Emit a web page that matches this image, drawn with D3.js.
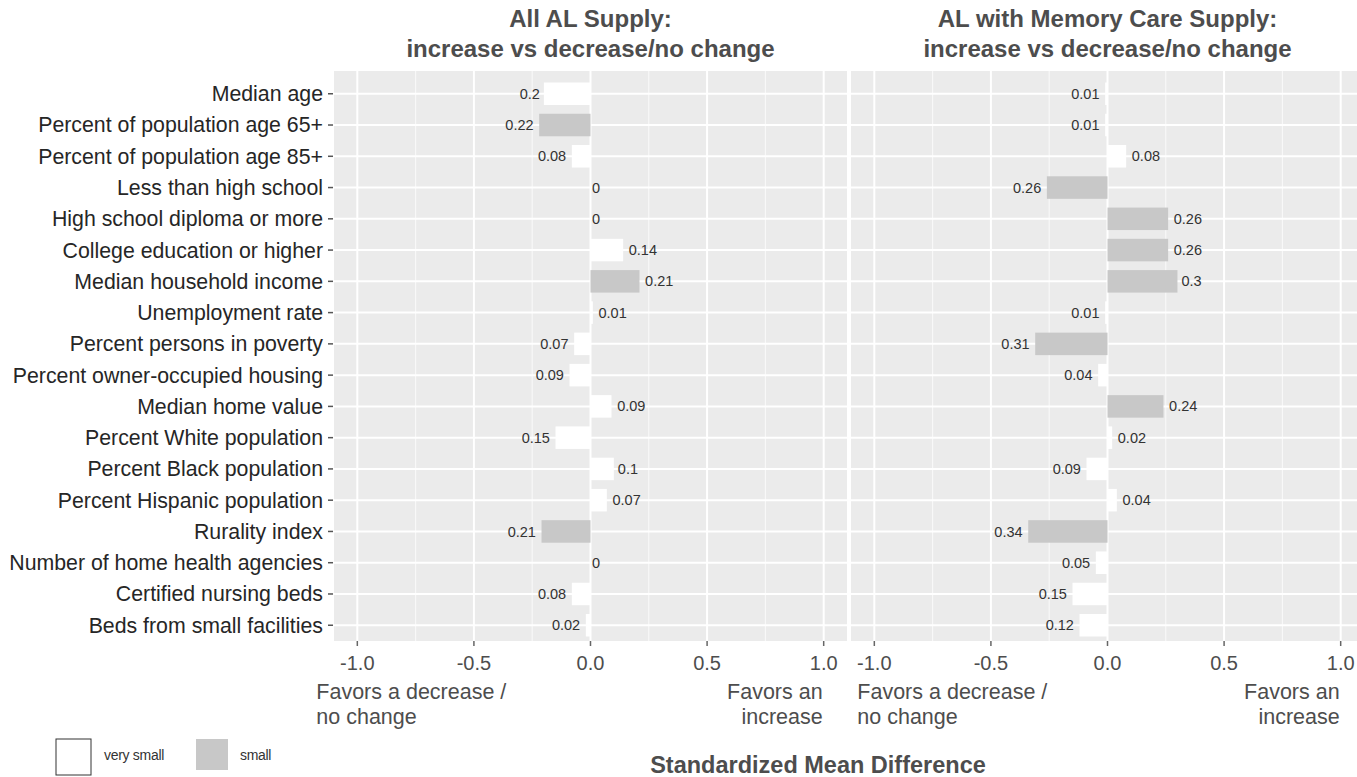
<!DOCTYPE html>
<html>
<head>
  <meta charset="utf-8">
  <script src="https://cdn.jsdelivr.net/npm/d3@7"></script>
  <style>
    body { margin: 0; background: #ffffff; }
    svg { font-family: "Liberation Sans", Arial, sans-serif; }
  </style>
</head>
<body>
  <script>
    // data (negative = favours a decrease / no change)
    var categories = [
      "Median age", "Percent of population age 65+", "Percent of population age 85+",
      "Less than high school", "High school diploma or more", "College education or higher",
      "Median household income", "Unemployment rate", "Percent persons in poverty",
      "Percent owner-occupied housing", "Median home value", "Percent White population",
      "Percent Black population", "Percent Hispanic population", "Rurality index",
      "Number of home health agencies", "Certified nursing beds", "Beds from small facilities"
    ];
    var allAL = [-0.2, -0.22, -0.08, 0, 0, 0.14, 0.21, 0.01, -0.07, -0.09, 0.09, -0.15, 0.1, 0.07, -0.21, 0, -0.08, -0.02];
    var allALSize = ["very small", "small", "very small", "very small", "very small", "very small", "small",
      "very small", "very small", "very small", "very small", "very small", "very small", "very small",
      "small", "very small", "very small", "very small"];
    var memoryCare = [-0.01, -0.01, 0.08, -0.26, 0.26, 0.26, 0.3, -0.01, -0.31, -0.04, 0.24, 0.02, -0.09, 0.04, -0.34, -0.05, -0.15, -0.12];
    var memoryCareSize = ["very small", "very small", "very small", "small", "small", "small", "small",
      "very small", "small", "very small", "small", "very small", "very small", "very small",
      "small", "very small", "very small", "very small"];
    var panelTitles = [
      ["All AL Supply:", "increase vs decrease/no change"],
      ["AL with Memory Care Supply:", "increase vs decrease/no change"]
    ];
    var xTicks = [-1, -0.5, 0, 0.5, 1];
    var minorTicks = [-0.75, -0.25, 0.25, 0.75];
    var sizeLevels = ["very small", "small"];

    var W = 1357, H = 777;
    var panelTop = 71, panelBottom = 641;
    var panelW = 513;
    var panelX = [334, 851];

    var fill = d3.scaleOrdinal().domain(sizeLevels).range(["#ffffff", "#c8c8c8"]);
    var fmt = function (d) { return d3.format(".1f")(d).replace("\u2212", "-"); };

    var svg = d3.select("body").append("svg")
      .attr("width", W)
      .attr("height", H);

    var yScale = d3.scalePoint().domain(categories).range([75, 644]).padding(0.6);
    var barH = yScale.step() * 0.72;

    var panels = [
      { values: allAL, sizes: allALSize, title: panelTitles[0], x0: panelX[0] },
      { values: memoryCare, sizes: memoryCareSize, title: panelTitles[1], x0: panelX[1] }
    ];

    panels.forEach(function (p, pi) {
      var xScale = d3.scaleLinear().domain([-1.1, 1.1]).range([p.x0, p.x0 + panelW]);
      var g = svg.append("g");

      // panel background
      g.append("rect")
        .attr("x", p.x0).attr("y", panelTop)
        .attr("width", panelW).attr("height", panelBottom - panelTop)
        .attr("fill", "#ebebeb");

      // grid
      g.selectAll(".minor").data(minorTicks).enter().append("line")
        .attr("x1", function (d) { return xScale(d); })
        .attr("x2", function (d) { return xScale(d); })
        .attr("y1", panelTop).attr("y2", panelBottom)
        .attr("stroke", "#fafafa").attr("stroke-width", 1);
      g.selectAll(".major").data(xTicks).enter().append("line")
        .attr("x1", function (d) { return xScale(d); })
        .attr("x2", function (d) { return xScale(d); })
        .attr("y1", panelTop).attr("y2", panelBottom)
        .attr("stroke", "#ffffff").attr("stroke-width", 2);
      g.selectAll(".hgrid").data(categories).enter().append("line")
        .attr("x1", p.x0).attr("x2", p.x0 + panelW)
        .attr("y1", function (d) { return yScale(d); })
        .attr("y2", function (d) { return yScale(d); })
        .attr("stroke", "#ffffff").attr("stroke-width", 2);

      var rows = categories.map(function (c, i) {
        return { cat: c, v: p.values[i], size: p.sizes[i] };
      });

      // bars
      g.selectAll(".bar").data(rows).enter().append("rect")
        .attr("x", function (d) { return xScale(Math.min(0, d.v)); })
        .attr("y", function (d) { return yScale(d.cat) - barH / 2; })
        .attr("width", function (d) { return Math.abs(xScale(d.v) - xScale(0)); })
        .attr("height", barH)
        .attr("fill", function (d) { return fill(d.size); });

      // value labels (absolute values, hjust -0.2 / 1.2 like ggplot)
      g.selectAll(".val").data(rows).enter().append("text")
        .text(function (d) { return String(Math.abs(d.v)); })
        .attr("y", function (d) { return yScale(d.cat); })
        .attr("dy", "0.35em")
        .attr("font-size", 14.5)
        .attr("fill", "#333333")
        .attr("text-anchor", function (d) { return d.v < 0 ? "end" : "start"; })
        .attr("x", function (d) { return xScale(d.v); })
        .each(function (d) {
          var w = this.getComputedTextLength();
          var x = xScale(d.v) + (d.v < 0 ? -0.2 * w : 0.2 * w);
          d3.select(this).attr("x", x);
        });

      // x axis ticks and labels
      g.selectAll(".xt").data(xTicks).enter().append("line")
        .attr("x1", function (d) { return xScale(d); })
        .attr("x2", function (d) { return xScale(d); })
        .attr("y1", panelBottom).attr("y2", panelBottom + 5)
        .attr("stroke", "#666666").attr("stroke-width", 1.5);
      g.selectAll(".xl").data(xTicks).enter().append("text")
        .attr("x", function (d) { return xScale(d); })
        .attr("y", 670)
        .attr("text-anchor", "middle")
        .attr("font-size", 20)
        .attr("fill", "#4d4d4d")
        .text(fmt);

      // direction notes
      var leftX = pi === 0 ? xScale(-1) - 41 : xScale(-1) - 17;
      var notes = g.append("g").attr("font-size", 21.5).attr("fill", "#4d4d4d");
      notes.append("text").attr("x", leftX).attr("y", 699).text("Favors a decrease /");
      notes.append("text").attr("x", leftX).attr("y", 724).text("no change");
      notes.append("text").attr("x", xScale(1) - 1).attr("y", 699).attr("text-anchor", "end").text("Favors an");
      notes.append("text").attr("x", xScale(1) - 1).attr("y", 724).attr("text-anchor", "end").text("increase");

      // panel title
      var cx = xScale(0);
      g.append("text").attr("x", cx).attr("y", 27).attr("text-anchor", "middle")
        .attr("font-size", 24).attr("font-weight", "bold").attr("fill", "#4d4d4d")
        .text(p.title[0]);
      g.append("text").attr("x", cx).attr("y", 57).attr("text-anchor", "middle")
        .attr("font-size", 24).attr("font-weight", "bold").attr("fill", "#4d4d4d")
        .text(p.title[1]);
    });

    // y axis on the left panel
    var yAxis = svg.append("g");
    yAxis.selectAll(".yl").data(categories).enter().append("text")
      .attr("x", 323)
      .attr("y", function (d) { return yScale(d); })
      .attr("dy", "0.35em")
      .attr("text-anchor", "end")
      .attr("font-size", 21.3)
      .attr("fill", "#262626")
      .text(function (d) { return d; });
    yAxis.selectAll(".yt").data(categories).enter().append("line")
      .attr("x1", 328).attr("x2", 333)
      .attr("y1", function (d) { return yScale(d); })
      .attr("y2", function (d) { return yScale(d); })
      .attr("stroke", "#555555").attr("stroke-width", 1.5);

    // x axis title
    svg.append("text")
      .attr("x", 818).attr("y", 773)
      .attr("text-anchor", "middle")
      .attr("font-size", 23.5).attr("font-weight", "bold").attr("fill", "#4d4d4d")
      .text("Standardized Mean Difference");

    // legend
    var legend = svg.append("g");
    var legendItems = [
      { level: "very small", x: 56, w: 35, h: 36, tx: 104 },
      { level: "small", x: 196, w: 32, h: 31, tx: 240 }
    ];
    legend.selectAll("rect").data(legendItems).enter().append("rect")
      .attr("x", function (d) { return d.x; })
      .attr("y", 739)
      .attr("width", function (d) { return d.w; })
      .attr("height", function (d) { return d.h; })
      .attr("fill", function (d) { return fill(d.level); })
      .attr("stroke", function (d) { return d.level === "very small" ? "#333333" : "none"; })
      .attr("stroke-width", 1);
    legend.selectAll("text").data(legendItems).enter().append("text")
      .attr("x", function (d) { return d.tx; })
      .attr("y", 755)
      .attr("dy", "0.35em")
      .attr("font-size", 14)
      .attr("fill", "#333333")
      .attr("letter-spacing", -0.3)
      .text(function (d) { return d.level; });
  </script>
</body>
</html>
